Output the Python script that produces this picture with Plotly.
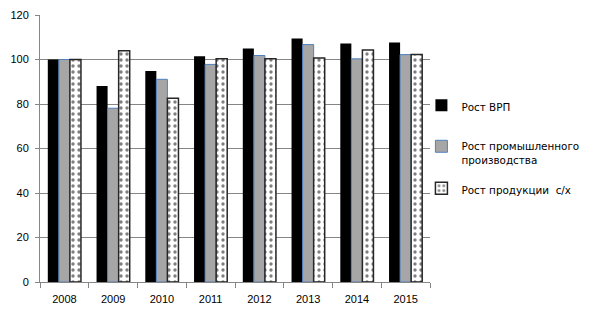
import plotly.graph_objects as go

years = ["2008", "2009", "2010", "2011", "2012", "2013", "2014", "2015"]
vrp = [100, 88.1, 94.8, 101.5, 105.0, 109.4, 107.2, 107.6]
prom = [100, 78.1, 91.1, 97.8, 101.8, 106.7, 100.3, 102.2]
agro = [100, 103.9, 82.6, 100.3, 100.3, 100.7, 104.3, 102.2]
names = ["Рост ВРП", "Рост промышленного<br>производства", "Рост продукции  с/х"]
yticks = [0, 20, 40, 60, 80, 100, 120]

fig = go.Figure()
fig.add_bar(x=years, y=vrp, name=names[0], legend="legend",
            marker=dict(color="#000000", line=dict(color="#000000", width=0)))
fig.add_bar(x=years, y=prom, name=names[1], legend="legend2",
            marker=dict(color="#A6A6A6", line=dict(color="#4F81BD", width=1)))
fig.add_bar(x=years, y=agro, name=names[2], legend="legend3",
            marker=dict(color="#FFFFFF", line=dict(color="#262626", width=1.5),
                        pattern=dict(shape=".", fgcolor="#000000", bgcolor="#FFFFFF",
                                     size=6, solidity=0.25)))

leg = dict(x=0.978, xanchor="left", yanchor="top",
           font=dict(family="DejaVu Sans, Verdana, sans-serif", size=10.4),
           itemwidth=30, bgcolor="rgba(0,0,0,0)", valign="top")

fig.update_layout(
    width=586, height=305,
    margin=dict(l=32, r=164, t=7, b=31, autoexpand=False),
    paper_bgcolor="white", plot_bgcolor="white",
    barmode="group", bargap=0.32, bargroupgap=0,
    font=dict(family="Liberation Sans, Arial, sans-serif", size=11, color="#000000"),
    showlegend=True,
    legend=dict(leg, y=0.7116),
    legend2=dict(leg, y=0.558),
    legend3=dict(leg, y=0.4007),
    xaxis=dict(type="category", showline=True, linecolor="#868686", linewidth=1,
               ticks="outside", tickson="boundaries", ticklen=5, tickcolor="#868686",
               showgrid=False, tickfont=dict(size=11), ticklabelstandoff=7),
    yaxis=dict(range=[0, 120], tickvals=yticks, showline=True, linecolor="#868686",
               linewidth=1, ticks="outside", ticklen=4, tickcolor="#868686",
               showgrid=True, gridcolor="#868686", gridwidth=1, zeroline=False,
               tickfont=dict(size=11), ticklabelstandoff=4),
)
fig.write_html("out.html")
